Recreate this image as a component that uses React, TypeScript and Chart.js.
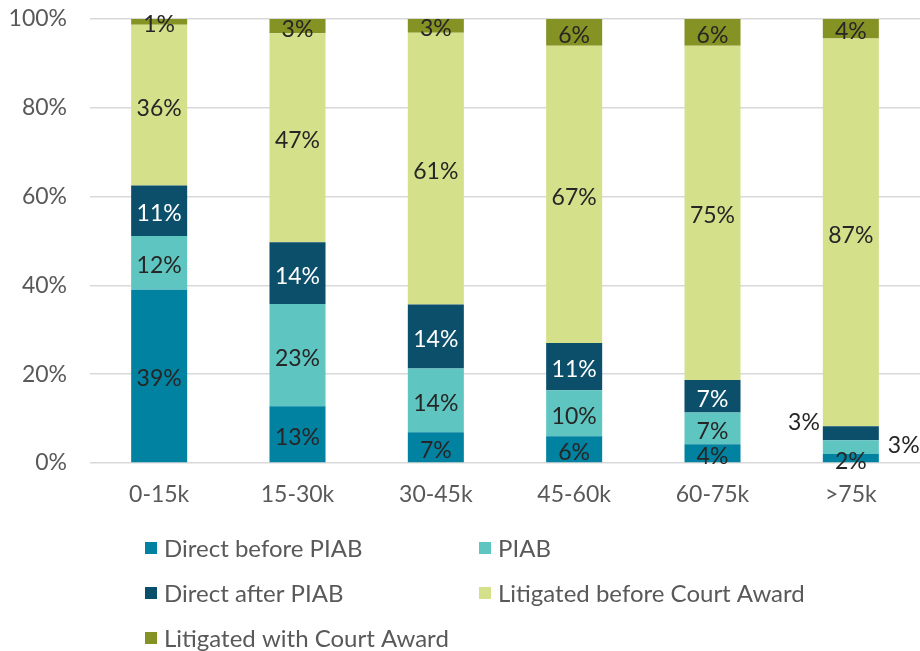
import React, { useEffect, useRef } from "react";
import { Chart, registerables } from "chart.js";

Chart.register(...registerables);

const categories = ["0-15k", "15-30k", "30-45k", "45-60k", "60-75k", ">75k"];
const seriesNames = [
  "Direct before PIAB",
  "PIAB",
  "Direct after PIAB",
  "Litigated before Court Award",
  "Litigated with Court Award",
];
const directBefore = [39.0, 12.8, 6.9, 6.0, 4.2, 2.0];
const piab = [12.1, 23.0, 14.4, 10.4, 7.2, 3.1];
const directAfter = [11.4, 13.9, 14.4, 10.6, 7.3, 3.2];
const litigatedBefore = [36.2, 47.1, 61.2, 67.0, 75.3, 87.3];
const litigatedWith = [1.3, 3.2, 3.1, 6.0, 6.0, 4.4];
const yTicks = [0, 20, 40, 60, 80, 100];

const colors = ["#0082A0", "#5EC5C1", "#0B4F6B", "#D4E18A", "#849324"];
const labelColors = ["#262626", "#262626", "#FFFFFF", "#262626", "#262626"];

const FONT = "Lato, 'Noto Sans', sans-serif";

const dataLabelPlugin = {
  id: "dataLabels",
  afterDatasetsDraw(chart: any) {
    const ctx = chart.ctx;
    ctx.save();
    ctx.font = `23px ${FONT}`;
    chart.data.datasets.forEach((ds: any, di: number) => {
      const meta = chart.getDatasetMeta(di);
      meta.data.forEach((el: any, i: number) => {
        const v = ds.data[i];
        const text = Math.round(v) + "%";
        const props = el.getProps(["x", "y", "base", "width"], true);
        let cx = props.x;
        let cy = (props.y + props.base) / 2 + 3;
        let align: CanvasTextAlign = "center";
        let color = labelColors[di];
        const isLast = i === categories.length - 1;
        if (isLast && di === 1) {
          cx = props.x + props.width / 2 + 9;
          cy -= 5;
          align = "left";
          color = "#262626";
        } else if (isLast && di === 2) {
          cx = props.x - props.width / 2 - 3;
          cy -= 14;
          align = "right";
          color = "#262626";
        }
        ctx.fillStyle = color;
        ctx.textAlign = align;
        ctx.textBaseline = "middle";
        ctx.fillText(text, cx, cy);
      });
    });
    ctx.restore();
  },
};

const legendPlugin = {
  id: "customLegend",
  afterDraw(chart: any) {
    const ctx = chart.ctx;
    const colX = [145, 479];
    const rowY = [548, 593, 638];
    ctx.save();
    ctx.font = `24px ${FONT}`;
    ctx.textBaseline = "middle";
    ctx.textAlign = "left";
    seriesNames.forEach((name, i) => {
      const x = colX[i % 2];
      const y = rowY[Math.floor(i / 2)];
      ctx.fillStyle = colors[i];
      ctx.fillRect(x, y - 6, 12, 12);
      ctx.fillStyle = "#595959";
      ctx.fillText(name, x + 19, y + 1);
    });
    ctx.restore();
  },
};

export default function App() {
  const ref = useRef<HTMLCanvasElement>(null);
  useEffect(() => {
    if (!ref.current) return;
    const series = [directBefore, piab, directAfter, litigatedBefore, litigatedWith];
    const chart = new Chart(ref.current, {
      type: "bar",
      data: {
        labels: categories,
        datasets: series.map((d, i) => ({
          label: seriesNames[i],
          data: d,
          backgroundColor: colors[i],
          borderWidth: 0,
          categoryPercentage: 1,
          barPercentage: 0.405,
        })),
      },
      options: {
        responsive: false,
        animation: false,
        events: [],
        layout: { padding: { top: 19, bottom: 138, left: 0, right: 0 } },
        plugins: {
          legend: { display: false },
          tooltip: { enabled: false },
        },
        scales: {
          x: {
            stacked: true,
            grid: { display: false },
            border: { display: false },
            ticks: {
              color: "#595959",
              font: { family: FONT, size: 23 },
              padding: 10,
            },
            afterFit(scale: any) {
              scale.height = 50;
              scale.paddingLeft = 0;
              scale.paddingRight = 0;
            },
          },
          y: {
            stacked: true,
            min: 0,
            max: 100,
            afterBuildTicks(scale: any) {
              scale.ticks = yTicks.map((v) => ({ value: v }));
            },
            grid: { color: "#D9D9D9", lineWidth: 1.5, drawTicks: false },
            border: { display: false },
            ticks: {
              color: "#595959",
              font: { family: FONT, size: 23 },
              padding: 23,
              callback: (v: any) => v + "%",
            },
            afterFit(scale: any) {
              scale.width = 90;
              scale.paddingTop = 0;
              scale.paddingBottom = 0;
            },
          },
        },
      },
      plugins: [dataLabelPlugin, legendPlugin],
    });
    return () => chart.destroy();
  }, []);
  return (
    <div style={{ position: "fixed", left: 0, top: 0, width: 920, height: 651, background: "#fff" }}>
      <canvas ref={ref} width={920} height={651} />
    </div>
  );
}
